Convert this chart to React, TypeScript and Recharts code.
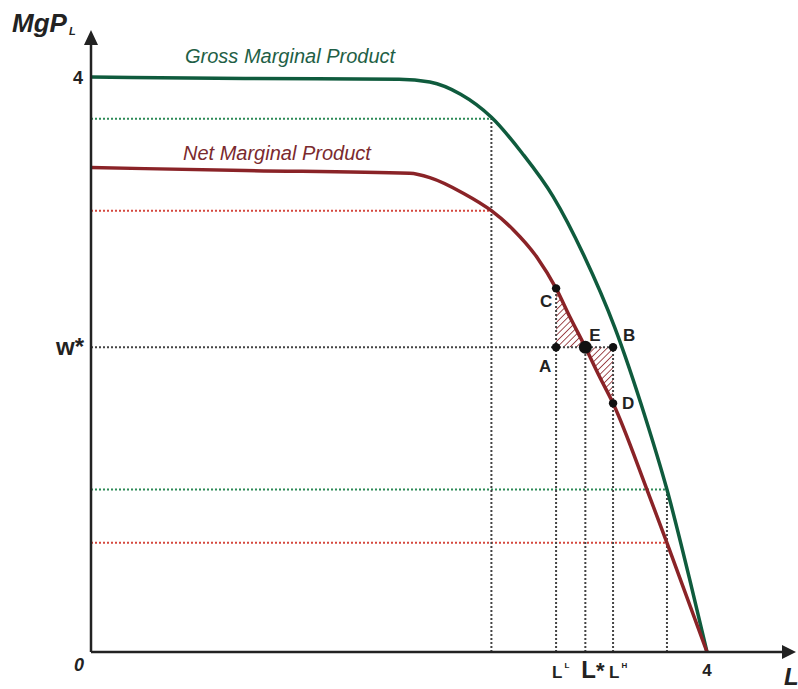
import { ComposedChart, Line, Area, Scatter, XAxis, YAxis, ReferenceLine, ReferenceDot } from "recharts"

// gross marginal product curve
const grossX = [0, 1.0, 2.0, 2.2, 2.4, 2.6, 2.8, 3.0, 3.2, 3.4, 3.6, 3.74, 3.9, 4.0]
const grossY = [4.0, 3.99, 3.985, 3.965, 3.88, 3.72, 3.47, 3.17, 2.76, 2.26, 1.63, 1.13, 0.45, 0]

// net marginal product curve
const netX = [0, 1.0, 2.07, 2.2, 2.42, 2.6, 2.74, 2.9, 3.02, 3.11, 3.21, 3.3, 3.39, 3.61, 3.74, 4.0]
const netY = [3.37, 3.35, 3.33, 3.3, 3.19, 3.07, 2.94, 2.74, 2.53, 2.33, 2.12, 1.92, 1.73, 1.13, 0.76, 0]

const wStar = 2.12

// hatched triangles C-A-E and E-B-D
const hatchLeftX = [3.02, 3.11, 3.21]
const hatchLeftTop = [2.53, 2.33, 2.12]
const hatchRightX = [3.21, 3.3, 3.39]
const hatchRightBottom = [2.12, 1.92, 1.73]

// marked points
const pointNames = ["C", "A", "E", "B", "D"]
const pointX = [3.02, 3.02, 3.21, 3.39, 3.39]
const pointY = [2.53, 2.12, 2.12, 2.12, 1.73]

// dotted guide lines [x1, y1, x2, y2]
const greenGuides = [
  [0, 3.71, 2.6, 3.71],
  [0, 1.13, 3.74, 1.13],
]
const redGuides = [
  [0, 3.07, 2.6, 3.07],
  [0, 0.76, 3.74, 0.76],
]
const blackGuides = [
  [0, wStar, 3.39, wStar],
  [2.6, 0, 2.6, 3.71],
  [3.74, 0, 3.74, 1.13],
  [3.02, 0, 3.02, 2.53],
  [3.21, 0, 3.21, 2.12],
  [3.39, 0, 3.39, 2.12],
]

// axis ticks
const xTicks = [3.02, 3.21, 3.39, 4]
const xTickMain = ["L", "L", "L", "4"]
const xTickSup = ["L", "*", "H", ""]
const yTicks = [0, wStar, 4]
const yTickLabels = ["0", "w*", "4"]

const xMax = 4.487
const yMax = 4.223

const grossData = grossX.map((x, i) => ({ x, y: grossY[i] }))
const netData = netX.map((x, i) => ({ x, y: netY[i] }))
const hatchLeft = hatchLeftX.map((x, i) => ({ x, range: [wStar, hatchLeftTop[i]] }))
const hatchRight = hatchRightX.map((x, i) => ({ x, range: [hatchRightBottom[i], wStar] }))
const points = pointNames.map((name, i) => ({ name, x: pointX[i], y: pointY[i] }))

const FONT = "'Liberation Sans', Arial, sans-serif"
const GREEN = "#0f5b3d"
const RED = "#8a2327"

const labelOffset: Record<string, [number, number]> = {
  C: [-16, 19],
  A: [-17, 25],
  E: [4, -6],
  B: [10, -6],
  D: [9, 6],
}

function PointShape(props: any) {
  const { cx, cy, payload } = props
  const big = payload.name === "E"
  const [dx, dy] = labelOffset[payload.name]
  return (
    <g>
      <circle cx={cx} cy={cy} r={big ? 6.5 : 4.2} fill="#111" />
      <text x={cx + dx} y={cy + dy} fontFamily={FONT} fontWeight="bold" fontSize={17} fill="#222">
        {payload.name}
      </text>
    </g>
  )
}

function XTick(props: any) {
  const { x, payload } = props
  const i = xTicks.indexOf(payload.value)
  const y = 652
  if (i < 0) return <g />
  if (xTickMain[i] === "4") {
    return (
      <text x={x} y={y + 24} textAnchor="middle" fontFamily={FONT} fontWeight="bold" fontSize={17} fill="#222">
        4
      </text>
    )
  }
  const star = xTickSup[i] === "*"
  return (
    <text x={x - (star ? 4 : 4)} y={y + 26} fontFamily={FONT} fontWeight="bold" fontSize={star ? 24 : 17} fill="#222">
      {xTickMain[i]}
      {star ? (
        <tspan fontSize={22}>*</tspan>
      ) : (
        <tspan fontSize={8} dx={2} dy={-10}>
          {xTickSup[i]}
        </tspan>
      )}
    </text>
  )
}

function YTick(props: any) {
  const { y, payload } = props
  const i = yTicks.indexOf(payload.value)
  if (i < 0) return <g />
  const label = yTickLabels[i]
  if (label === "0") {
    return (
      <text x={84} y={y + 19} textAnchor="end" fontFamily={FONT} fontWeight="bold" fontStyle="italic" fontSize={18} fill="#222">
        0
      </text>
    )
  }
  if (label === "w*") {
    return (
      <text x={84} y={y + 8} textAnchor="end" fontFamily={FONT} fontWeight="bold" fontSize={24} fill="#222">
        {label}
      </text>
    )
  }
  return (
    <text x={83} y={y + 7} textAnchor="end" fontFamily={FONT} fontWeight="bold" fontSize={18} fill="#222">
      {label}
    </text>
  )
}

const dotted = { strokeDasharray: "2 2", strokeWidth: 2 }

export default function App() {
  return (
    <div style={{ position: "absolute", left: 0, top: 0, width: 798, height: 689, background: "#fff" }}>
      <ComposedChart width={798} height={689} margin={{ top: 45, right: 16, bottom: 36, left: 90 }}>
        <defs>
          <pattern id="hatch" width="4.5" height="4.5" patternUnits="userSpaceOnUse" patternTransform="rotate(45)">
            <line x1="0" y1="0" x2="0" y2="4.5" stroke={RED} strokeWidth={1.6} />
          </pattern>
        </defs>
        <XAxis
          type="number"
          dataKey="x"
          domain={[0, xMax]}
          ticks={xTicks}
          interval={0}
          tick={XTick}
          tickLine={false}
          tickSize={0}
          tickMargin={0}
          height={1}
          allowDataOverflow
          axisLine={{ stroke: "#222", strokeWidth: 2.5 }}
        />
        <YAxis
          type="number"
          domain={[0, yMax]}
          ticks={yTicks}
          interval={0}
          tick={YTick}
          tickLine={false}
          tickSize={0}
          tickMargin={0}
          width={1}
          allowDataOverflow
          axisLine={{ stroke: "#222", strokeWidth: 2.5 }}
        />
        {greenGuides.map((g, i) => (
          <ReferenceLine key={"g" + i} segment={[{ x: g[0], y: g[1] }, { x: g[2], y: g[3] }]} stroke="#2d8a57" {...dotted} />
        ))}
        {redGuides.map((g, i) => (
          <ReferenceLine key={"r" + i} segment={[{ x: g[0], y: g[1] }, { x: g[2], y: g[3] }]} stroke="#d5483f" {...dotted} />
        ))}
        {blackGuides.map((g, i) => (
          <ReferenceLine key={"b" + i} segment={[{ x: g[0], y: g[1] }, { x: g[2], y: g[3] }]} stroke="#444" {...dotted} />
        ))}
        <Area data={hatchLeft} dataKey="range" type="linear" fill="url(#hatch)" fillOpacity={1} stroke="none" isAnimationActive={false} />
        <Area data={hatchRight} dataKey="range" type="linear" fill="url(#hatch)" fillOpacity={1} stroke="none" isAnimationActive={false} />
        <Line data={grossData} dataKey="y" type="monotone" stroke={GREEN} strokeWidth={3.5} dot={false} isAnimationActive={false} />
        <Line data={netData} dataKey="y" type="monotone" stroke={RED} strokeWidth={3.5} dot={false} isAnimationActive={false} />
        <Scatter data={points} dataKey="y" shape={PointShape} isAnimationActive={false} />
        <ReferenceDot
          x={xMax}
          y={0}
          ifOverflow="visible"
          shape={(p: any) => <path d={`M${p.cx} ${p.cy - 7} L${p.cx + 14} ${p.cy} L${p.cx} ${p.cy + 7} Z`} fill="#222" />}
        />
        <ReferenceDot
          x={0}
          y={yMax}
          ifOverflow="visible"
          shape={(p: any) => <path d={`M${p.cx - 7} ${p.cy} L${p.cx} ${p.cy - 15} L${p.cx + 7} ${p.cy} Z`} fill="#222" />}
        />
        <text x={185} y={63} fontFamily={FONT} fontStyle="italic" fontSize={20} fill="#1f5f46">
          Gross Marginal Product
        </text>
        <text x={183} y={160} fontFamily={FONT} fontStyle="italic" fontSize={20} fill="#7b2a2e">
          Net Marginal Product
        </text>
        <text x={12} y={32} fontFamily={FONT} fontStyle="italic" fontWeight="bold" fontSize={26} fill="#222">
          MgP
          <tspan fontSize={11} dx={2} dy={3}>L</tspan>
        </text>
        <text x={784} y={685} fontFamily={FONT} fontStyle="italic" fontWeight="bold" fontSize={24} fill="#222">
          L
        </text>
      </ComposedChart>
    </div>
  )
}
